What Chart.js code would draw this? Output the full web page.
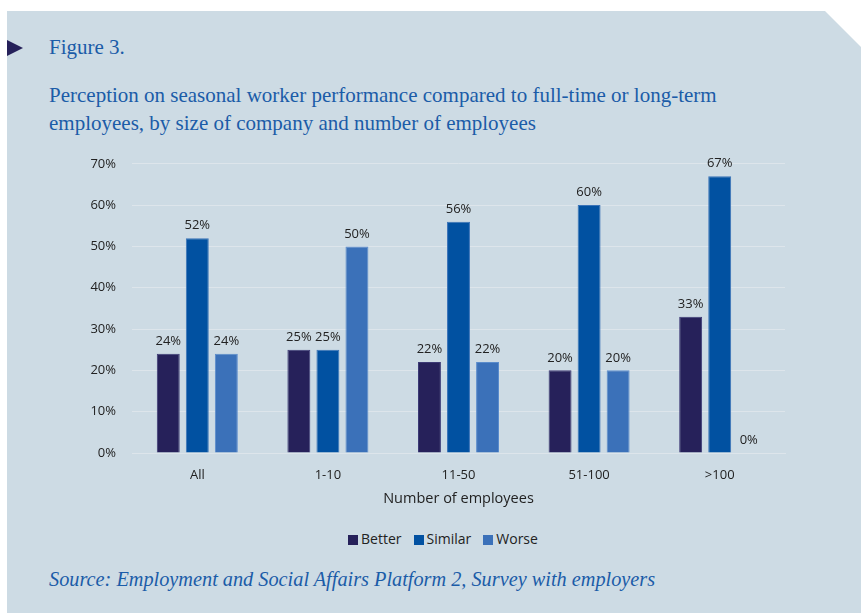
<!DOCTYPE html>
<html>
<head>
<meta charset="utf-8">
<script src="https://cdn.jsdelivr.net/npm/chart.js@4"></script>
<style>
html,body{margin:0;padding:0;background:#fff;width:861px;height:613px;overflow:hidden;}
#panel{position:absolute;left:7px;top:11px;width:854px;height:602px;background:#cddbe4;
 clip-path:polygon(0 0, 818px 0, 854px 36px, 854px 602px, 0 602px);}
#tri{position:absolute;left:7px;top:40px;width:0;height:0;border-top:8px solid transparent;border-bottom:8px solid transparent;border-left:16px solid #26215a;}
.serif{font-family:"Liberation Serif","DejaVu Serif",serif;color:#1b5ca8;position:absolute;white-space:nowrap;}
#fig{left:49px;top:35px;font-size:21px;}
#sub{left:49px;top:81px;font-size:21px;line-height:28px;}
#src{left:49px;top:568px;font-size:20.3px;font-style:italic;}
#wrap{position:absolute;left:60px;top:140px;width:740px;height:386px;}
#legend{position:absolute;left:243px;width:400px;top:530px;text-align:center;font-family:"Open Sans","Noto Sans",sans-serif;font-size:14px;color:#222;line-height:18px;}
#legend span.item{display:inline-block;margin:0 6px;}
#legend i{display:inline-block;width:10px;height:10px;margin-right:3px;vertical-align:-1px;}
</style>
</head>
<body>
<div id="panel"></div>
<div id="tri"></div>
<div class="serif" id="fig">Figure 3.</div>
<div class="serif" id="sub">Perception on seasonal worker performance compared to full-time or long-term<br>employees, by size of company and number of employees</div>
<div class="serif" id="src">Source: Employment and Social Affairs Platform 2, Survey with employers</div>
<div id="wrap"><canvas id="c"></canvas></div>
<div id="legend"></div>
<script>
const categories = ["All", "1-10", "11-50", "51-100", ">100"];
const seriesNames = ["Better", "Similar", "Worse"];
const better = [24, 25, 22, 20, 33];
const similar = [52, 25, 56, 60, 67];
const worse = [24, 50, 22, 20, 0];
const yTicks = [0, 10, 20, 30, 40, 50, 60, 70];
const colors = ['#26215a', '#0151a1', '#3b71b9'];
const borders = ['#3c3a75', '#3a73b8', '#5a8ccc'];

const FONT = '"Open Sans", "Noto Sans", sans-serif';
const labelPlugin = {
  id: 'barLabels',
  afterDatasetsDraw(chart) {
    const ctx = chart.ctx;
    ctx.save();
    ctx.font = '13px ' + FONT;
    ctx.fillStyle = '#222';
    ctx.textAlign = 'center';
    ctx.textBaseline = 'bottom';
    chart.data.datasets.forEach((ds, i) => {
      const meta = chart.getDatasetMeta(i);
      meta.data.forEach((bar, j) => {
        ctx.fillText(ds.data[j] + '%', bar.x, bar.y - 6);
      });
    });
    ctx.restore();
  }
};

const seriesData = [better, similar, worse];
const chart = new Chart(document.getElementById('c'), {
  type: 'bar',
  data: {
    labels: categories,
    datasets: seriesNames.map((n, i) => ({
      label: n, data: seriesData[i], backgroundColor: colors[i], borderColor: borders[i],
      borderWidth: {top:1,left:1,right:1,bottom:0}
    }))
  },
  options: {
    responsive: true,
    maintainAspectRatio: false,
    animation: false,
    datasets: {bar: {categoryPercentage: 0.667, barPercentage: 0.79}},
    layout: {padding: {top: 0, right: 15, left: 0, bottom: 0}},
    plugins: {legend: {display: false}, tooltip: {enabled: false}},
    scales: {
      x: {
        grid: {display: false},
        border: {display: true, color: '#dde5eb'},
        ticks: {color: '#222', font: {size: 13, family: FONT}, padding: 6},
        title: {display: true, text: 'Number of employees', color: '#222', padding: {top: 2, bottom: 18},
          font: {size: 14.5, family: FONT}}
      },
      y: {
        min: 0, max: 70,
        afterBuildTicks(axis) { axis.ticks = yTicks.map(v => ({value: v})); },
        afterFit(axis) { axis.width = 72; },
        grid: {color: '#dde5eb', drawTicks: false},
        border: {display: false},
        ticks: {color: '#222', padding: 16, font: {size: 13, family: FONT},
          callback: v => v + '%'}
      }
    }
  },
  plugins: [labelPlugin]
});

document.getElementById('legend').innerHTML = chart.data.datasets.map(ds =>
  '<span class="item"><i style="background:' + ds.backgroundColor + '"></i>' + ds.label + '</span>').join('');
</script>
</body>
</html>
